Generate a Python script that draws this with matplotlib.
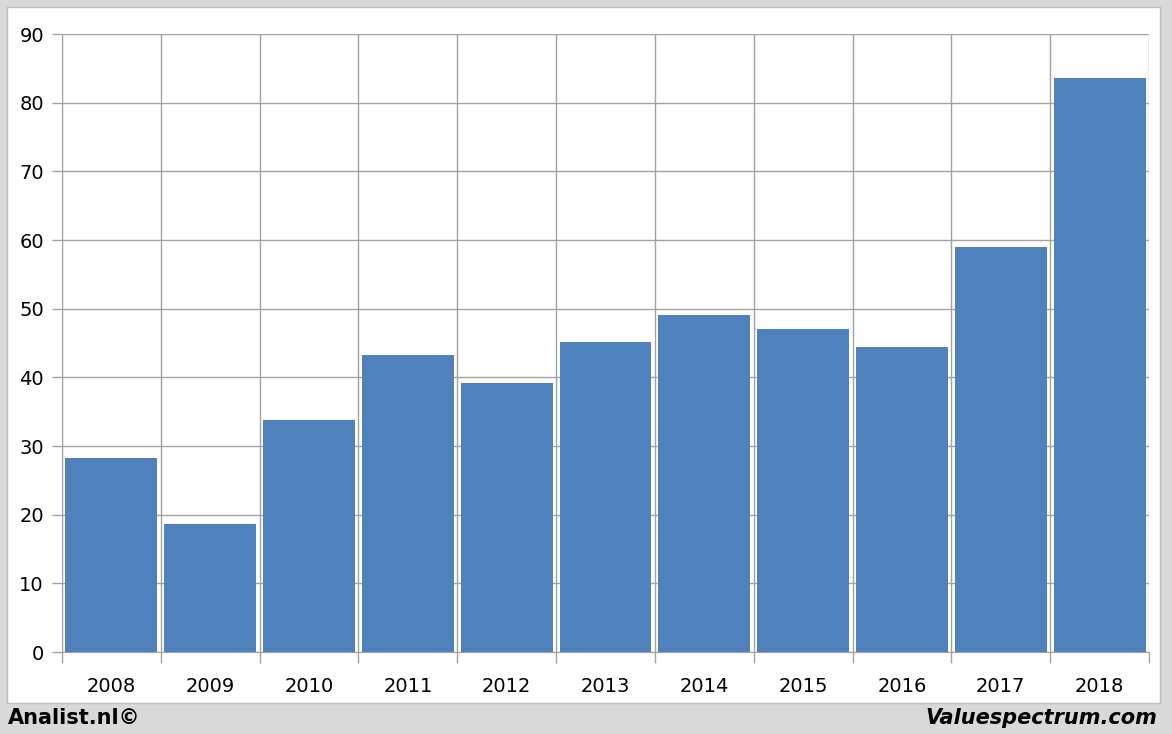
import matplotlib.pyplot as plt
import numpy as np
from matplotlib.patches import Rectangle

# --- DATA ---
years = ["2008", "2009", "2010", "2011", "2012", "2013", "2014", "2015", "2016", "2017", "2018"]
values = [28.2, 18.7, 33.8, 43.2, 39.2, 45.1, 49.1, 47.1, 44.4, 59.0, 83.6]
y_ticks = [0, 10, 20, 30, 40, 50, 60, 70, 80, 90]

BAR_COLOR = '#4f81bd'
GRID_COLOR = '#a3a3a3'
BG_GREY = '#d9d9d9'

W, H = 1172, 734
fig = plt.figure(figsize=(W / 100, H / 100), dpi=100)
fig.patch.set_facecolor(BG_GREY)

# white chart panel (drawn behind the axes)
fig.patches.append(Rectangle((7 / W, 1 - 703 / H), (1160 - 7) / W, (703 - 7) / H,
                             transform=fig.transFigure, facecolor='white',
                             edgecolor='#bfbfbf', lw=1, zorder=-10))

ax = fig.add_axes([62 / W, 1 - 652 / H, (1149 - 62) / W, (652 - 34) / H])
ax.set_facecolor('white')
ax.set_zorder(1)

x = np.arange(len(years))
ax.bar(x, values, width=0.93, color=BAR_COLOR, zorder=3)

ax.set_xlim(-0.5, len(years) - 0.5)
ax.set_ylim(0, 90)
ax.set_yticks(y_ticks)
ax.set_yticklabels([str(v) for v in y_ticks], fontsize=14, fontfamily='DejaVu Sans')

# vertical lines at category boundaries
ax.set_xticks(np.arange(-0.5, len(years), 1.0))
ax.set_xticklabels([])
ax.set_xticks(x, minor=True)
ax.set_xticklabels(years, minor=True, fontsize=14, fontfamily='DejaVu Sans')
ax.tick_params(axis='x', which='minor', length=0, pad=18)
ax.tick_params(axis='x', which='major', length=8, color=GRID_COLOR, width=1)
ax.tick_params(axis='y', length=7, color=GRID_COLOR, width=1, pad=6)

ax.grid(True, which='major', color=GRID_COLOR, lw=1, zorder=0)
ax.set_axisbelow(True)
for side in ['top', 'right']:
    ax.spines[side].set_visible(False)
ax.spines['left'].set_color(GRID_COLOR)
ax.spines['bottom'].set_color(GRID_COLOR)

fig.text(8 / W, 1 - 718 / H, "Analist.nl©", fontsize=15, fontweight='bold',
         va='center', ha='left')
fig.text(1157 / W, 1 - 718 / H, "Valuespectrum.com", fontsize=15, fontweight='bold',
         fontstyle='italic', va='center', ha='right')

plt.savefig("out.png", dpi=100, facecolor=fig.get_facecolor())
